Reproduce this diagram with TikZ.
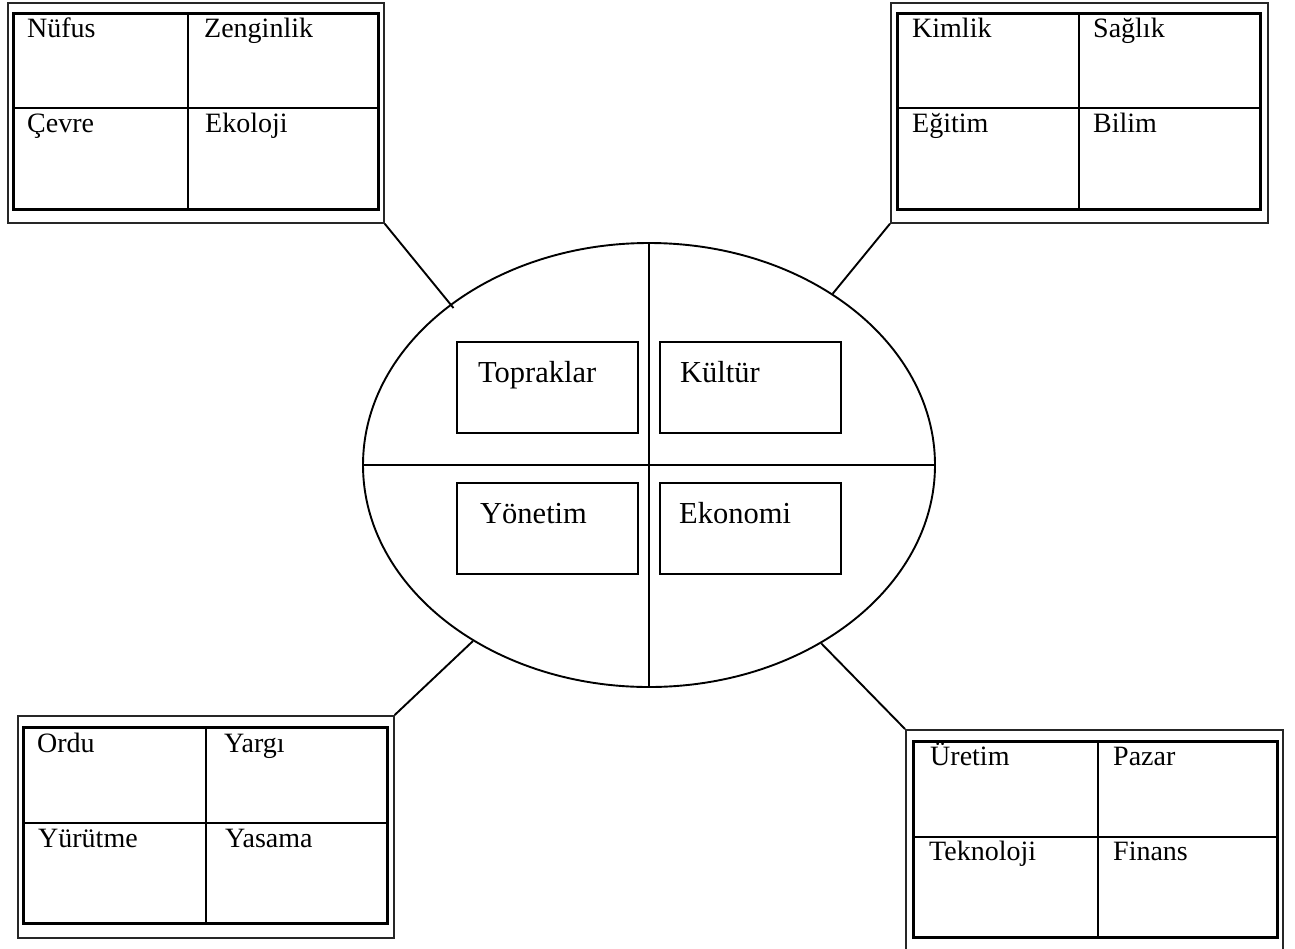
\documentclass[tikz,border=0pt]{standalone}
\usepackage{fontspec}
\setmainfont{Liberation Serif}
\usetikzlibrary{shapes.geometric}
\begin{document}
\begin{tikzpicture}[x=1pt,y=-1pt,
  frame/.style={draw=black!85, line width=1.7pt, rectangle, inner sep=0pt,
    anchor=north west},
  grid/.style={line width=3pt},
  divider/.style={line width=2.3pt},
  cell/.style={anchor=base west, inner sep=0pt, font=\fontsize{28}{30}\selectfont},
  cbox/.style={draw, line width=1.9pt, rectangle, inner sep=0pt, anchor=north west,
    minimum width=181pt, minimum height=91pt},
  ctext/.style={anchor=base west, inner sep=0pt, font=\fontsize{30.5}{32}\selectfont},
  link/.style={line width=1.9pt}]
\path[use as bounding box, clip] (0,0) rectangle (1295,948);

% central ellipse split in four
\node[draw, ellipse, line width=1.9pt, minimum width=572pt, minimum height=444pt,
  inner sep=0pt] (ell) at (649,465) {};
\draw[line width=1.9pt] (ell.north) -- (ell.south);
\draw[line width=1.9pt] (ell.west) -- (ell.east);

\node[cbox] (topraklar) at (456,341) {};
\node[cbox] (kultur) at (659,341) {};
\node[cbox] (yonetim) at (456,482) {};
\node[cbox] (ekonomi) at (659,482) {};
\node[ctext] (tTopraklar) at (478,382) {Topraklar};
\node[ctext] (tKultur) at (680,382) {Kültür};
\node[ctext] (tYonetim) at (480,523) {Yönetim};
\node[ctext] (tEkonomi) at (679,523) {Ekonomi};

% top-left panel
\node[frame, minimum width=376pt, minimum height=220pt] (tl) at (7,2) {};
\draw[grid] (13,13) rectangle (378,209);
\draw[divider] (188,13) -- (188,209);
\draw[divider] (13,108) -- (378,108);
\node[cell] (nufus) at (27,37) {Nüfus};
\node[cell] (zenginlik) at (204,37) {Zenginlik};
\node[cell] (cevre) at (27,132) {Çevre};
\node[cell] (ekoloji) at (205,132) {Ekoloji};

% top-right panel
\node[frame, minimum width=377pt, minimum height=220pt] (tr) at (890,2) {};
\draw[grid] (897,13) rectangle (1260,209);
\draw[divider] (1079,13) -- (1079,209);
\draw[divider] (897,108) -- (1260,108);
\node[cell] (kimlik) at (912,37) {Kimlik};
\node[cell] (saglik) at (1093,37) {Sağlık};
\node[cell] (egitim) at (912,132) {Eğitim};
\node[cell] (bilim) at (1093,132) {Bilim};

% bottom-left panel
\node[frame, minimum width=376pt, minimum height=222pt] (bl) at (17,715) {};
\draw[grid] (23,727) rectangle (387,923);
\draw[divider] (206,727) -- (206,923);
\draw[divider] (23,823) -- (387,823);
\node[cell] (ordu) at (37,752) {Ordu};
\node[cell] (yargi) at (224,752) {Yargı};
\node[cell] (yurutme) at (38,847) {Yürütme};
\node[cell] (yasama) at (225,847) {Yasama};

% bottom-right panel
\node[frame, minimum width=377pt, minimum height=226pt] (br) at (905,729) {};
\draw[grid] (913,741) rectangle (1277,937);
\draw[divider] (1098,741) -- (1098,937);
\draw[divider] (913,837) -- (1277,837);
\node[cell] (uretim) at (930,765) {Üretim};
\node[cell] (pazar) at (1113,765) {Pazar};
\node[cell] (teknoloji) at (929,860) {Teknoloji};
\node[cell] (finans) at (1113,860) {Finans};

% connectors from the panels to the ellipse
\draw[link, shorten >=-5pt] (tl.south east) -- (ell.141);
\draw[link] (tr.south west) -- (ell.43);
\draw[link] (bl.north east) -- (ell.225);
\draw[link] (br.north west) -- (ell.314);
\end{tikzpicture}
\end{document}
